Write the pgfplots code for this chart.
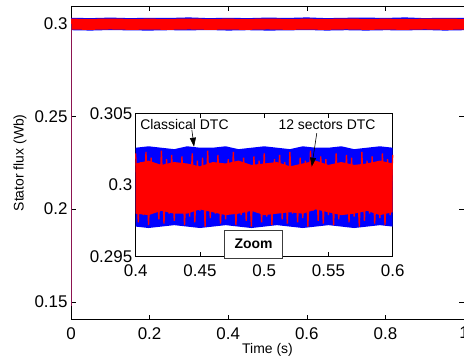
\documentclass[border=0pt]{standalone}
\usepackage{fontspec}
\setmainfont{Liberation Sans}
\usepackage{pgfplots}
\pgfplotsset{compat=1.18}
\usetikzlibrary{arrows.meta}
\definecolor{mblue}{RGB}{0,0,255}
\definecolor{mred}{RGB}{255,0,0}
\definecolor{mpurple}{RGB}{140,20,80}
\definecolor{boxgray}{RGB}{60,60,60}
\begin{document}
\begin{tikzpicture}[x=1bp,y=1bp]
\path[use as bounding box] (0,0) rectangle (464,360);
% ---------------- main axis ----------------
\begin{axis}[
  at={(71bp,40.3bp)}, anchor=south west,
  scale only axis, width=393bp, height=313.7bp,
  xmin=0, xmax=1, ymin=0.14045, ymax=0.30944,
  xtick={0,0.2,0.4,0.6,0.8,1},
  xticklabels={0,0.2,0.4,0.6,0.8,1},
  ytick={0.15,0.2,0.25,0.3},
  yticklabels={0.15,0.2,0.25,0.3},
  /pgf/number format/assume math mode=true,
  tick label style={font=\fontsize{17}{20}\selectfont},
  xticklabel style={yshift=-4bp},
  label style={font=\fontsize{14}{16}\selectfont},
  axis line style={black, line width=0.8bp},
  tick style={black, line width=0.6bp},
  major tick length=5bp,
  xlabel={Time (s)},
  ylabel={Stator flux (Wb)},
  xlabel style={at={(axis description cs:0.5,-0.0975)}, anchor=center},
  ylabel style={at={(axis description cs:-0.1298,0.5)}, anchor=center, rotate=0},
]
% blue band (classical DTC)
\addplot[fill=mblue, draw=none] coordinates {
(0,0.3031)(0.05,0.3029)(0.1,0.3032)(0.15,0.3029)(0.2,0.3031)(0.25,0.3030)(0.3,0.3033)
(0.35,0.3029)(0.4,0.3031)(0.45,0.3029)(0.5,0.3032)(0.55,0.3030)(0.6,0.3033)(0.65,0.3029)
(0.7,0.3031)(0.75,0.3032)(0.8,0.3030)(0.85,0.3033)(0.9,0.3029)(0.95,0.3031)(1,0.3030)
(1,0.2964)(0.95,0.2962)(0.9,0.2965)(0.85,0.2963)(0.8,0.2964)(0.75,0.2962)(0.7,0.2964)
(0.65,0.2962)(0.6,0.2965)(0.55,0.2963)(0.5,0.2962)(0.45,0.2964)(0.4,0.2962)(0.35,0.2965)
(0.3,0.2963)(0.25,0.2964)(0.2,0.2962)(0.15,0.2963)(0.1,0.2965)(0.05,0.2962)(0,0.2964)
} -- cycle;
% red band (12 sectors DTC)
\addplot[fill=mred, draw=none] coordinates {
(0,0.3026)(0.05,0.3025)(0.1,0.3027)(0.15,0.3025)(0.2,0.3026)(0.25,0.3025)(0.3,0.3027)
(0.35,0.3025)(0.4,0.3026)(0.45,0.3025)(0.5,0.3027)(0.55,0.3025)(0.6,0.3026)(0.65,0.3025)
(0.7,0.3027)(0.75,0.3025)(0.8,0.3026)(0.85,0.3025)(0.9,0.3026)(0.95,0.3027)(1,0.3025)
(1,0.2967)(0.95,0.2966)(0.9,0.2968)(0.85,0.2966)(0.8,0.2967)(0.75,0.2966)(0.7,0.2968)
(0.65,0.2966)(0.6,0.2967)(0.55,0.2966)(0.5,0.2968)(0.45,0.2966)(0.4,0.2967)(0.35,0.2966)
(0.3,0.2968)(0.25,0.2966)(0.2,0.2967)(0.15,0.2966)(0.1,0.2968)(0.05,0.2966)(0,0.2967)
} -- cycle;
% start-up transient
\addplot[mpurple, line width=2.4bp] coordinates {(0,0.148)(0,0.3)};
\end{axis}
% ---------------- inset ----------------
\begin{axis}[
  at={(135.7bp,103.3bp)}, anchor=south west,
  scale only axis, width=257bp, height=143.4bp,
  xmin=0.4, xmax=0.6, ymin=0.295, ymax=0.305,
  xtick={0.4,0.45,0.5,0.55,0.6},
  xticklabels={0.4,0.45,0.5,0.55,0.6},
  ytick={0.295,0.3,0.305},
  yticklabels={0.295,0.3,0.305},
  /pgf/number format/assume math mode=true,
  tick label style={font=\fontsize{17}{20}\selectfont},
  xticklabel style={yshift=-4bp},
  axis background/.style={fill=white},
  axis line style={black, line width=0.8bp},
  tick style={black, line width=0.6bp},
  major tick length=5bp,
  clip=false,
]
% blue band
\addplot[fill=mblue, draw=none] coordinates {
(0.40,0.3026)(0.41,0.3027)(0.42,0.3026)(0.43,0.3025)(0.44,0.3027)(0.45,0.3026)(0.46,0.3026)
(0.47,0.3027)(0.48,0.3025)(0.49,0.3026)(0.50,0.3027)(0.51,0.3026)(0.52,0.3025)(0.53,0.3027)
(0.54,0.3026)(0.55,0.3026)(0.56,0.3027)(0.57,0.3025)(0.58,0.3026)(0.59,0.3027)(0.60,0.3026)
(0.60,0.2971)(0.59,0.2972)(0.58,0.2971)(0.57,0.2970)(0.56,0.2971)(0.55,0.2972)(0.54,0.2971)
(0.53,0.2970)(0.52,0.2971)(0.51,0.2972)(0.50,0.2971)(0.49,0.2970)(0.48,0.2971)(0.47,0.2972)
(0.46,0.2971)(0.45,0.2970)(0.44,0.2971)(0.43,0.2972)(0.42,0.2971)(0.41,0.2970)(0.40,0.2971)
} -- cycle;
% red core
\addplot[fill=mred, draw=none] coordinates {
(0.40,0.3015)(0.41,0.3017)(0.42,0.3014)(0.43,0.3016)(0.44,0.3015)(0.45,0.3013)(0.46,0.3016)
(0.47,0.3015)(0.48,0.3017)(0.49,0.3014)(0.50,0.3015)(0.51,0.3016)(0.52,0.3013)(0.53,0.3015)
(0.54,0.3017)(0.55,0.3014)(0.56,0.3016)(0.57,0.3014)(0.58,0.3015)(0.59,0.3017)(0.60,0.3015)
(0.60,0.2981)(0.59,0.2979)(0.58,0.2982)(0.57,0.2980)(0.56,0.2979)(0.55,0.2981)(0.54,0.2983)
(0.53,0.2980)(0.52,0.2981)(0.51,0.2980)(0.50,0.2979)(0.49,0.2982)(0.48,0.2980)(0.47,0.2979)
(0.46,0.2981)(0.45,0.2983)(0.44,0.2980)(0.43,0.2980)(0.42,0.2982)(0.41,0.2979)(0.40,0.2980)
} -- cycle;
% red spikes
\addplot[mred, line width=1.3bp] coordinates {
(0.400,0.3022)(0.402,0.2974)(0.404,0.3016)(0.406,0.2979)(0.408,0.3023)(0.410,0.2972)
(0.412,0.3019)(0.414,0.2981)(0.416,0.3014)(0.418,0.2976)(0.420,0.3024)(0.422,0.2973)
(0.424,0.3018)(0.426,0.2980)(0.428,0.3021)(0.430,0.2975)(0.432,0.3015)(0.434,0.2983)
(0.436,0.3020)(0.438,0.2972)(0.440,0.3013)(0.442,0.2978)(0.444,0.3022)(0.446,0.2974)
(0.448,0.3017)(0.450,0.2982)(0.452,0.3019)(0.454,0.2971)(0.456,0.3024)(0.458,0.2977)
(0.460,0.3016)(0.462,0.2980)(0.464,0.3021)(0.466,0.2973)(0.468,0.3014)(0.470,0.2976)
(0.472,0.3018)(0.474,0.2984)(0.476,0.3023)(0.478,0.2972)(0.480,0.3015)(0.482,0.2979)
(0.484,0.3019)(0.486,0.2975)(0.488,0.3012)(0.490,0.2971)(0.492,0.3020)(0.494,0.2981)
(0.496,0.3017)(0.498,0.2974)(0.500,0.3022)(0.502,0.2978)(0.504,0.3014)(0.506,0.2972)
(0.508,0.3018)(0.510,0.2983)(0.512,0.3021)(0.514,0.2976)(0.516,0.3016)(0.518,0.2973)
(0.520,0.3023)(0.522,0.2980)(0.524,0.3013)(0.526,0.2974)(0.528,0.3019)(0.530,0.2977)
(0.532,0.3017)(0.534,0.2971)(0.536,0.3024)(0.538,0.2982)(0.540,0.3015)(0.542,0.2975)
(0.544,0.3020)(0.546,0.2973)(0.548,0.3018)(0.550,0.2979)(0.552,0.3014)(0.554,0.2972)
(0.556,0.3022)(0.558,0.2976)(0.560,0.3016)(0.562,0.2981)(0.564,0.3021)(0.566,0.2974)
(0.568,0.3019)(0.570,0.2978)(0.572,0.3013)(0.574,0.2971)(0.576,0.3023)(0.578,0.2975)
(0.580,0.3017)(0.582,0.2980)(0.584,0.3020)(0.586,0.2973)(0.588,0.3015)(0.590,0.2977)
(0.592,0.3022)(0.594,0.2972)(0.596,0.3018)(0.598,0.2979)(0.600,0.3021)
};
% annotations
\node[anchor=west, inner sep=0pt, font=\fontsize{14}{16}\selectfont] at (axis cs:0.4034,0.30425) {Classical DTC};
\node[anchor=center, inner sep=0pt, font=\fontsize{14}{16}\selectfont] at (axis cs:0.5489,0.30423) {12 sectors DTC};
\draw[-{Triangle[length=9bp,width=6bp]}, black, line width=0.6bp] (axis cs:0.4437,0.30384) -- (axis cs:0.4454,0.30267);
\draw[-{Triangle[length=9bp,width=6bp]}, black, line width=0.6bp] (axis cs:0.5409,0.30361) -- (axis cs:0.5370,0.30128);
\node[draw=boxgray, line width=0.8bp, fill=white, minimum width=58bp, minimum height=28bp, inner sep=0pt,
      font=\bfseries\fontsize{14}{16}\selectfont] at (axis cs:0.4917,0.295886) {Zoom};
\end{axis}
\end{tikzpicture}
\end{document}
